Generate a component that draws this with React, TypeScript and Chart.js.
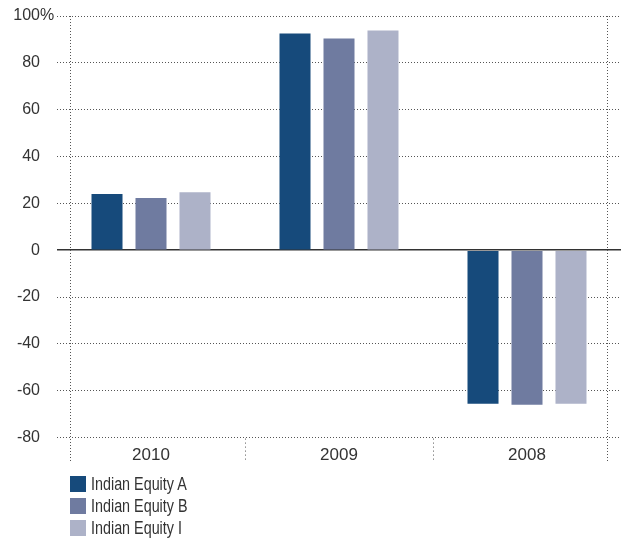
import React, { useEffect, useRef } from "react";
import { Chart, registerables } from "chart.js";

Chart.register(...registerables);

const categories = ["2010", "2009", "2008"];
const seriesNames = ["Indian Equity A", "Indian Equity B", "Indian Equity I"];
const equityA = [24.0, 92.5, -65.5];
const equityB = [22.3, 90.4, -66.0];
const equityI = [24.8, 93.8, -65.5];
const seriesColors = ["#164a7b", "#6f7ba0", "#adb2c8"];
const yMin = -80;
const yMax = 100;
const yStep = 20;
const unit = "%";

const TEXT = "#333333";
const GRID = "#555555";
const TICK_FONT = "'Liberation Sans', Arial, sans-serif";
const Y_PAD = 17;

const frameLines = {
  id: "frameLines",
  beforeDatasetsDraw(chart: any) {
    const { ctx, chartArea, scales } = chart;
    ctx.save();
    ctx.strokeStyle = GRID;
    ctx.lineWidth = 1;
    ctx.setLineDash([1, 2]);
    const xs = [Math.round(chartArea.left + 13) + 0.5, Math.round(chartArea.right - 14) + 0.5];
    xs.forEach((x) => {
      ctx.beginPath();
      ctx.moveTo(x, chartArea.top);
      ctx.lineTo(x, chartArea.bottom + 24);
      ctx.stroke();
    });
    ctx.setLineDash([1, 3]);
    const xScale = scales.x;
    for (let i = 1; i < categories.length; i++) {
      const x = Math.round((xScale.getPixelForTick(i - 1) + xScale.getPixelForTick(i)) / 2) + 0.5;
      ctx.beginPath();
      ctx.moveTo(x, chartArea.bottom + 1);
      ctx.lineTo(x, chartArea.bottom + 23);
      ctx.stroke();
    }
    ctx.restore();
  },
  afterDraw(chart: any) {
    const { ctx, chartArea, scales } = chart;
    const y = scales.y.getPixelForValue(yMax);
    ctx.save();
    ctx.font = `16px ${TICK_FONT}`;
    ctx.fillStyle = TEXT;
    ctx.textAlign = "left";
    ctx.textBaseline = "middle";
    ctx.fillText(unit, chartArea.left - Y_PAD, y);
    ctx.restore();
  },
};

export default function App() {
  const ref = useRef<HTMLCanvasElement | null>(null);

  useEffect(() => {
    document.body.style.margin = "0";
    const canvas = ref.current;
    if (!canvas) return;
    const data = [equityA, equityB, equityI];
    const chart = new Chart(canvas, {
      type: "bar",
      data: {
        labels: categories,
        datasets: seriesNames.map((name, i) => ({
          label: name,
          data: data[i],
          backgroundColor: seriesColors[i],
          borderWidth: 0,
          categoryPercentage: 0.702,
          barPercentage: 0.705,
        })),
      },
      options: {
        animation: false,
        responsive: false,
        devicePixelRatio: 1,
        layout: { padding: { top: 16, right: 8, left: 0, bottom: 65 } },
        plugins: {
          legend: { display: false },
          tooltip: { enabled: false },
        },
        scales: {
          x: {
            type: "category",
            offset: true,
            grid: { display: false, drawTicks: false },
            border: { display: false },
            ticks: {
              color: TEXT,
              padding: 8,
              font: { family: TICK_FONT, size: 17 },
            },
          },
          y: {
            min: yMin,
            max: yMax,
            afterFit: (scale: any) => {
              scale.width = 57;
              scale.paddingTop = 0;
              scale.paddingBottom = 0;
            },
            grid: {
              drawTicks: false,
              color: (c: any) => (c.tick && c.tick.value === 0 ? "#333333" : GRID),
              lineWidth: (c: any) => (c.tick && c.tick.value === 0 ? 1.5 : 1),
            },
            border: {
              display: false,
              dash: (c: any) => (c.tick && c.tick.value === 0 ? [] : [1, 2]),
            },
            ticks: {
              stepSize: yStep,
              padding: Y_PAD,
              color: TEXT,
              font: { family: TICK_FONT, size: 16 },
              callback: (v: any) => `${v}`,
            },
          },
        },
      },
      plugins: [frameLines],
    });
    return () => chart.destroy();
  }, []);

  return (
    <div style={{ position: "relative", width: 629, height: 539 }}>
      <canvas ref={ref} width={629} height={539} style={{ display: "block" }} />
      <div
        style={{
          position: "absolute",
          left: 70,
          top: 473,
          fontFamily: "'Liberation Sans', Arial, sans-serif",
          fontSize: 17.5,
          color: TEXT,
        }}
      >
        {seriesNames.map((name, i) => (
          <div key={name} style={{ display: "flex", alignItems: "center", height: 22 }}>
            <span
              style={{
                display: "inline-block",
                width: 16,
                height: 16,
                background: seriesColors[i],
                marginRight: 5,
                flex: "none",
              }}
            />
            <span
              style={{
                display: "inline-block",
                transform: "scaleX(0.82)",
                transformOrigin: "left center",
                whiteSpace: "nowrap",
              }}
            >
              {name}
            </span>
          </div>
        ))}
      </div>
    </div>
  );
}
